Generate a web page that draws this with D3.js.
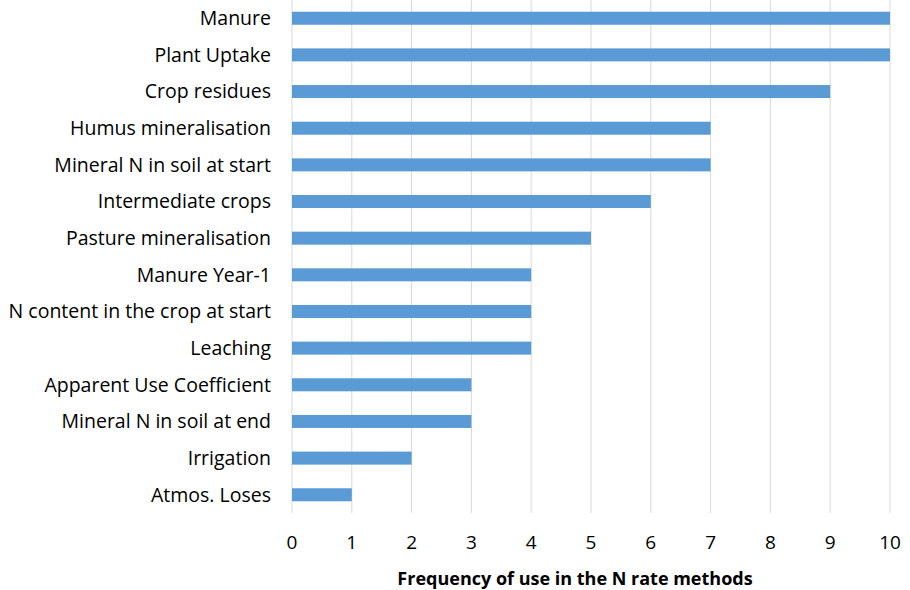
<!DOCTYPE html>
<html>
<head>
<meta charset="utf-8">
<script src="https://cdn.jsdelivr.net/npm/d3@7"></script>
<style>
  body { margin: 0; background: #fff; }
  text { font-family: "Open Sans", "Noto Sans", sans-serif; fill: #000; }
</style>
</head>
<body>
<script>
var categories = ["Manure", "Plant Uptake", "Crop residues", "Humus mineralisation",
    "Mineral N in soil at start", "Intermediate crops", "Pasture mineralisation",
    "Manure Year-1", "N content in the crop at start", "Leaching",
    "Apparent Use Coefficient", "Mineral N in soil at end", "Irrigation", "Atmos. Loses"];
var values = [10, 10, 9, 7, 7, 6, 5, 4, 4, 4, 3, 3, 2, 1];
var xTicks = [0, 1, 2, 3, 4, 5, 6, 7, 8, 9, 10];
var xTitle = "Frequency of use in the N rate methods";

var w = 910, h = 590;
var plotLeft = 292, plotRight = 890, plotTop = 0, plotBottom = 513;

var svg = d3.select("body").append("svg")
    .attr("width", w)
    .attr("height", h);

var x = d3.scaleLinear().domain([0, 10]).range([plotLeft, plotRight]);
var y = d3.scaleBand().domain(categories).range([plotTop, plotBottom])
    .paddingInner(0.645).paddingOuter(0.32);

/* vertical gridlines */
svg.selectAll(".grid")
    .data(xTicks)
    .enter()
    .append("line")
    .attr("class", "grid")
    .attr("x1", function(d) { return x(d); })
    .attr("x2", function(d) { return x(d); })
    .attr("y1", plotTop)
    .attr("y2", plotBottom)
    .style("stroke", "#d9d9d9")
    .style("stroke-width", 1);

svg.selectAll(".bar")
    .data(values)
    .enter()
    .append("rect")
    .attr("class", "bar")
    .attr("x", x(0))
    .attr("y", function(d, i) { return y(categories[i]); })
    .attr("width", function(d) { return x(d) - x(0); })
    .attr("height", y.bandwidth())
    .style("fill", "#5b9bd5");

/* category labels */
svg.selectAll(".cat")
    .data(categories)
    .enter()
    .append("text")
    .attr("class", "cat")
    .attr("x", plotLeft - 21)
    .attr("y", function(d) { return y(d) + y.bandwidth() / 2; })
    .attr("dy", "0.35em")
    .attr("text-anchor", "end")
    .style("font-size", "19.5px")
    .text(function(d) { return d; });

/* x tick labels */
svg.selectAll(".xtick")
    .data(xTicks)
    .enter()
    .append("text")
    .attr("class", "xtick")
    .attr("x", function(d) { return x(d); })
    .attr("y", 542)
    .attr("dy", "0.35em")
    .attr("text-anchor", "middle")
    .style("font-size", "19px")
    .text(function(d) { return d; });

svg.append("text")
    .attr("x", 575)
    .attr("y", 579)
    .attr("dy", "0.35em")
    .attr("text-anchor", "middle")
    .style("font-size", "18px")
    .style("font-weight", "bold")
    .text(xTitle);
</script>
</body>
</html>
